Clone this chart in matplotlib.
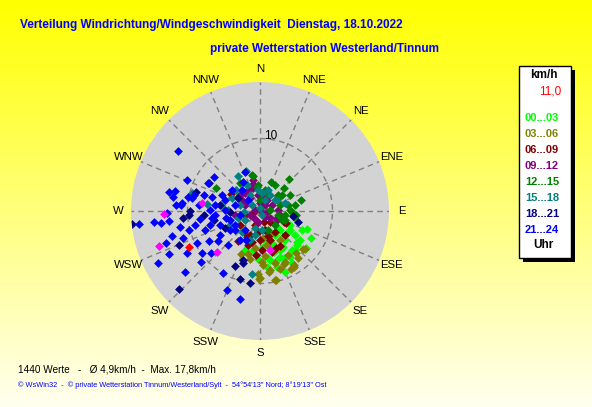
import matplotlib
matplotlib.use("Agg")
import matplotlib.pyplot as plt
import numpy as np
from matplotlib.patches import Rectangle

plt.rcParams['font.family'] = ['Liberation Sans', 'DejaVu Sans']

W, H = 592, 407

# Windrichtung (Grad) und Geschwindigkeit (km/h), je 3-Stunden-Block
dir_00_03 = [111, 130, 122, 158, 163, 168, 156, 158, 147, 175, 190, 201, 182, 147, 138, 136, 134, 173,
             148, 139, 164, 124, 153, 170, 115, 126, 133, 127, 133, 153, 148, 114, 161, 129, 118, 170, 141, 161]
spd_00_03 = [7.0, 6.6, 4.9, 9.1, 8.1, 6.9, 6.9, 4.9, 5.9, 5.0, 5.5, 5.7, 6.6, 7.6, 7.3, 4.8, 3.8, 7.8,
             3.9, 5.3, 4.9, 5.9, 6.1, 4.1, 4.6, 6.9, 3.4, 4.9, 6.9, 7.3, 8.4, 6.4, 6.0, 8.2, 7.9, 6.6, 7.0, 7.2]

dir_03_06 = [130, 152, 168, 180, 182, 172, 177, 196, 165, 173, 156, 131, 149, 148, 204, 169,
             157, 145, 148, 164, 174, 188, 154, 141, 170, 178, 161, 139, 192, 181, 167]
spd_03_06 = [8.1, 9.0, 9.8, 9.3, 8.7, 8.5, 7.5, 6.1, 2.7, 3.8, 8.0, 7.9, 9.0, 8.8, 6.5, 4.8,
             3.6, 4.9, 7.2, 7.4, 6.2, 5.2, 7.9, 8.4, 8.3, 7.1, 8.4, 7.6, 6.7, 9.4, 9.8]

dir_06_09 = [301, 254, 194, 207, 115, 114, 255, 200, 165, 203, 180, 161, 145, 235, 199, 177, 150, 134,
             138, 217, 185, 162, 195, 157, 217, 160, 164, 185]
spd_06_09 = [4.6, 1.0, 1.7, 4.0, 3.6, 4.0, 2.2, 2.1, 2.7, 3.6, 4.0, 4.3, 3.6, 3.4, 5.0, 5.4, 5.5, 4.8,
             2.1, 5.1, 2.9, 3.6, 4.4, 5.6, 3.7, 1.6, 5.9, 6.1]

dir_09_12 = [347, 345, 344, 12, 31, 101, 320, 303, 322, 0, 118, 95, 114, 139,
             309, 292, 281, 40, 125, 248, 261, 190, 330, 353, 63, 117, 301, 87, 221]
spd_09_12 = [4.4, 3.9, 3.3, 2.3, 1.8, 2.8, 3.2, 3.6, 2.2, 1.1, 2.6, 0.9, 2.5, 1.1,
             3.6, 2.2, 0.7, 1.1, 1.7, 1.5, 3.5, 1.6, 3.4, 2.2, 1.9, 0.3, 2.9, 2.5, 1.3]

dir_12_15 = [42, 20, 356, 88, 48, 21, 349, 298, 324, 352, 112, 100, 54, 110, 347,
             13, 30, 73, 84, 99, 0, 62, 80, 133, 157, 54, 78, 102, 96, 75, 46, 92]
spd_12_15 = [5.9, 4.3, 3.6, 4.1, 3.3, 2.6, 4.9, 6.8, 4.7, 3.4, 3.3, 4.7, 3.1, 3.7, 5.1,
             3.0, 4.2, 2.9, 1.4, 3.5, 1.5, 4.7, 4.9, 2.8, 2.9, 3.8, 4.0, 2.6, 5.0, 5.8, 4.6, 4.4]

dir_15_18 = [285, 278, 328, 341, 73, 6, 56, 187, 279,
             328, 355, 24, 287, 239, 196, 153, 32, 295, 199, 221,
             272, 311, 333, 307, 0, 266, 21, 54, 245, 192, 252, 174]
spd_15_18 = [9.7, 7.4, 5.7, 5.8, 3.6, 2.5, 2.8, 8.8, 5.4,
             2.6, 2.9, 1.7, 2.9, 2.4, 2.5, 0.6, 2.6, 4.3, 4.3, 3.8,
             4.4, 4.4, 4.0, 1.4, 0.4, 2.2, 3.1, 2.6, 4.6, 3.4, 3.2, 2.7]

dir_18_21 = [264, 226, 287, 299, 270, 267, 247, 265, 205, 196, 188, 199, 198, 106, 99,
             279, 268, 259, 266, 244, 301]
spd_18_21 = [17.8, 15.5, 9.2, 8.1, 9.7, 9.8, 12.1, 10.7, 8.3, 9.8, 10.1, 7.2, 7.6, 5.5, 4.6,
             5.6, 4.2, 6.4, 7.7, 5.4, 3.6]

dir_21_24 = [306, 293, 282, 283, 279, 276, 281, 281, 307, 286, 286, 276, 274, 274, 329, 339,
             264, 264, 263, 269, 254, 251, 245, 243, 231, 240, 234, 229, 240, 229, 211, 203,
             193, 243, 259, 264, 284, 298, 251,
             265, 251, 272, 253, 254, 251, 239, 238, 284, 259, 287, 278, 262, 258, 255, 271,
             241, 218, 215, 223, 235, 307, 319, 313, 258, 232, 206, 293, 262]
spd_21_24 = [14.0, 10.9, 12.8, 12.0, 12.2, 10.8, 10.1, 9.5, 7.9, 8.0, 6.9, 8.4, 11.6, 10.9, 4.6, 5.7,
             16.8, 14.7, 13.7, 12.8, 12.7, 13.7, 13.9, 15.8, 13.3, 11.7, 9.9, 10.7, 8.2, 8.9, 10.0, 11.8,
             12.4, 9.7, 11.3, 12.6, 9.4, 8.2, 11.3,
             6.3, 5.9, 4.9, 4.3, 7.2, 8.1, 6.5, 4.9, 3.6, 2.8, 5.1, 6.3, 8.4, 9.2, 10.1, 6.9,
             4.0, 3.4, 4.9, 6.5, 7.1, 4.9, 3.8, 2.3, 4.8, 4.3, 4.5, 5.7, 6.7]

dir_extra = [268, 251, 278, 226, 166]
spd_extra = [13.3, 14.7, 8.1, 8.2, 5.6]

dir_mittel = [243]
spd_mittel = [11.0]

hour_labels = ['00...03', '03...06', '06...09', '09...12', '12...15', '15...18', '18...21', '21...24']
hour_colors = ['#00ff00', '#808000', '#800000', '#800080', '#008000', '#008080', '#000080', '#0000ff']
hour_dirs = [dir_00_03, dir_03_06, dir_06_09, dir_09_12, dir_12_15, dir_15_18, dir_18_21, dir_21_24]
hour_spds = [spd_00_03, spd_03_06, spd_06_09, spd_09_12, spd_12_15, spd_15_18, spd_18_21, spd_21_24]

compass = ['N', 'NNE', 'NE', 'ENE', 'E', 'ESE', 'SE', 'SSE',
           'S', 'SSW', 'SW', 'WSW', 'W', 'WNW', 'NW', 'NNW']
r_max = 17.8


def px(x, y):
    return x / W, 1 - y / H


fig = plt.figure(figsize=(W / 100, H / 100), dpi=100)

# Hintergrund: Verlauf gelb -> hellgelb
bg = fig.add_axes([0, 0, 1, 1], zorder=-10)
grad = np.linspace(0, 1, 256)[:, None]
img = np.dstack([np.ones_like(grad), np.ones_like(grad), 0.94 * grad])
bg.imshow(img, aspect='auto', extent=[0, 1, 0, 1], origin='upper')
bg.axis('off')

ax = fig.add_axes([0.2213, 0.1646, 0.4358, 0.6339], projection='polar')
ax.set_theta_zero_location('N')
ax.set_theta_direction(-1)
ax.set_ylim(0, r_max)
ax.set_facecolor('#d3d3d3')
ax.spines['polar'].set_visible(False)
ax.set_xticks(np.deg2rad(np.arange(0, 360, 22.5)))
ax.set_xticklabels([])
ax.set_yticks([10])
ax.set_yticklabels([])
ax.grid(True, color='#808080', linestyle=(0, (4, 3)), linewidth=1)

for i, name in enumerate(compass):
    ax.text(np.deg2rad(i * 22.5), 19.6, name, ha='center', va='center', fontsize=8.2)
ax.text(np.deg2rad(8), 10.4, '10', ha='center', va='center', fontsize=8.5)

for d, s, c in zip(hour_dirs, hour_spds, hour_colors):
    ax.scatter(np.deg2rad(d), s, marker='D', s=20, c=c, linewidths=0, zorder=3)
ax.scatter(np.deg2rad(dir_extra), spd_extra, marker='D', s=20, c='#ff00ff', linewidths=0, zorder=4)
ax.scatter(np.deg2rad(dir_mittel), spd_mittel, marker='D', s=20, c='#ff0000', linewidths=0, zorder=4)

# Titel
fig.text(*px(20, 25), 'Verteilung Windrichtung/Windgeschwindigkeit  Dienstag, 18.10.2022',
         color='#0000ff', fontsize=8.5, fontweight='bold', va='center')
fig.text(*px(210, 49), 'private Wetterstation Westerland/Tinnum',
         color='#0000ff', fontsize=8.5, fontweight='bold', va='center')

# Legende
fig.patches.append(Rectangle(px(523, 262), 52 / W, 192 / H, transform=fig.transFigure,
                             facecolor='black', edgecolor='none'))
fig.patches.append(Rectangle(px(519, 258), 52 / W, 192 / H, transform=fig.transFigure,
                             facecolor='white', edgecolor='black', linewidth=1))
fig.text(*px(544, 75), 'km/h', fontsize=8.5, fontweight='bold', ha='center', va='center')
fig.text(*px(550, 92), '11,0', fontsize=8.5, color='#ff0000', ha='center', va='center')
for i, (lab, c) in enumerate(zip(hour_labels, hour_colors)):
    fig.text(*px(542, 118 + 16 * i), lab, fontsize=8, fontweight='bold', color=c,
             ha='center', va='center')
fig.text(*px(543, 245), 'Uhr', fontsize=8.5, fontweight='bold', ha='center', va='center')

# Fusszeilen
fig.text(*px(18, 370), '1440 Werte   -   \u00d8 4,9km/h  -  Max. 17,8km/h', fontsize=7.2, va='center')
fig.text(*px(18, 385), '\u00a9 WsWin32  -  \u00a9 private Wetterstation Tinnum/Westerland/Sylt  -  '
         '54\u00b054\'13" Nord; 8\u00b019\'13" Ost', fontsize=5.3, color='#0000ff', va='center')

fig.savefig('out.png', dpi=100)
